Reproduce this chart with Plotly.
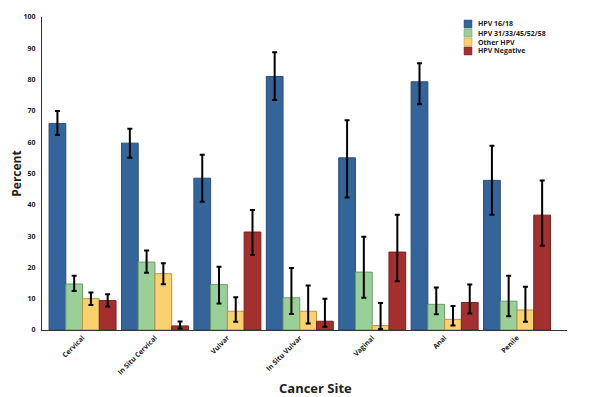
import plotly.graph_objects as go

categories = ["Cervical", "In Situ Cervical", "Vulvar", "In Situ Vulvar", "Vaginal", "Anal", "Penile"]
series_names = ["HPV 16/18", "HPV 31/33/45/52/58", "Other HPV", "HPV Negative"]

hpv1618 = [66.0, 59.7, 48.5, 81.0, 55.0, 79.3, 47.8]
hpv1618_hi = [70.0, 64.3, 56.0, 88.7, 67.0, 85.2, 58.9]
hpv1618_lo = [62.3, 55.0, 41.0, 73.5, 42.3, 72.1, 36.8]

hpv31 = [14.7, 21.7, 14.5, 10.3, 18.5, 8.2, 9.2]
hpv31_hi = [17.3, 25.4, 20.2, 19.8, 29.8, 13.6, 17.3]
hpv31_lo = [12.5, 18.3, 8.5, 5.1, 10.3, 5.0, 4.4]

other = [10.0, 18.0, 6.0, 6.0, 1.4, 3.4, 6.4]
other_hi = [12.0, 21.3, 10.5, 14.2, 8.6, 7.7, 13.8]
other_lo = [8.0, 14.6, 2.6, 2.1, 0.3, 1.4, 2.6]

negative = [9.4, 1.3, 31.3, 2.8, 24.9, 8.8, 36.7]
negative_hi = [11.4, 2.7, 38.3, 10.0, 36.8, 14.5, 47.8]
negative_lo = [7.5, 0.5, 24.0, 1.0, 15.6, 5.3, 26.9]

colors = ["#33659b", "#9bcf98", "#fbd170", "#a3302f"]
lines = ["#294f7a", "#6f9a6c", "#b89540", "#7a2222"]

values = [hpv1618, hpv31, other, negative]
his = [hpv1618_hi, hpv31_hi, other_hi, negative_hi]
los = [hpv1618_lo, hpv31_lo, other_lo, negative_lo]

# page body has an 8px margin; size the figure to fit the 590x397 window
OFF = 8
W, H = 590 - OFF, 397 - OFF
PL, PT, PR, PB = 42, 17, 567, 330  # plot area in page pixels
L, T = PL - OFF, PT - OFF
R, B = W - (PR - OFF), H - (PB - OFF)
pw, ph = PR - PL, PB - PT

def px(x):
    return (x - PL) / pw

def py(y):
    return (PB - y) / ph

fig = go.Figure()
for name, v, hi, lo, c, lc in zip(series_names, values, his, los, colors, lines):
    fig.add_trace(go.Bar(
        name=name, x=categories, y=v, showlegend=False,
        marker=dict(color=c, line=dict(color=lc, width=1)),
        error_y=dict(type="data", symmetric=False,
                     array=[h - a for h, a in zip(hi, v)],
                     arrayminus=[a - l for a, l in zip(v, lo)],
                     color="black", thickness=2, width=2.5),
    ))

# manual compact legend
shapes = []
annotations = []
row_y = [24, 33, 42, 51]
for name, c, lc, ry in zip(series_names, colors, lines, row_y):
    shapes.append(dict(type="rect", xref="paper", yref="paper",
                       x0=px(464), x1=px(472), y0=py(ry + 4), y1=py(ry - 4),
                       fillcolor=c, line=dict(color=lc, width=0.5)))
    annotations.append(dict(xref="paper", yref="paper", x=px(476), y=py(ry),
                            xanchor="left", yanchor="middle", showarrow=False,
                            text=name, font=dict(size=7, color="#222", weight="bold")))

annotations.append(dict(xref="paper", yref="paper", x=px(315), y=py(388),
                        xanchor="center", yanchor="middle", showarrow=False,
                        text="Cancer Site", font=dict(size=13, color="#222", weight="bold")))

fig.update_layout(
    width=W, height=H,
    margin=dict(l=L, r=R, t=T, b=B),
    paper_bgcolor="white", plot_bgcolor="white",
    barmode="group", bargap=0.075, bargroupgap=0,
    font=dict(family="Open Sans, Liberation Sans, sans-serif", color="#222"),
    showlegend=False,
    shapes=shapes, annotations=annotations,
    xaxis=dict(range=[-0.56, 6.69], showline=True, linecolor="#333", linewidth=1,
               ticks="", tickangle=-45, automargin=False,
               tickfont=dict(size=7, color="#222", weight="bold")),
    yaxis=dict(range=[0, 100], dtick=10, showline=True, linecolor="#333", linewidth=1,
               showgrid=False, zeroline=False, ticks="", ticklabelstandoff=4, automargin=False,
               tickfont=dict(size=7, color="#222", weight="bold"),
               title=dict(text="Percent", font=dict(size=12, weight="bold", color="#222"), standoff=6)),
)

fig.write_html("out.html")
